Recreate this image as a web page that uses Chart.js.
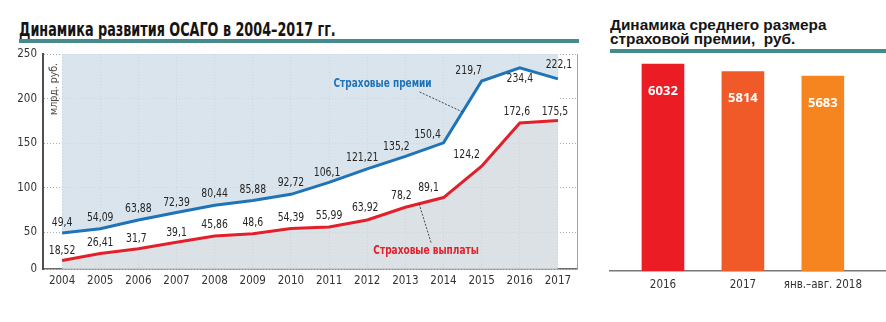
<!DOCTYPE html>
<html lang="ru">
<head>
<meta charset="utf-8">
<script src="https://cdn.jsdelivr.net/npm/chart.js@4.4.1/dist/chart.umd.min.js"></script>
<style>
  body { margin: 0; width: 886px; height: 322px; background: #fff; position: relative; overflow: hidden;
         font-family: "Liberation Sans Narrow", "DejaVu Sans Condensed", sans-serif; }
  .title { position: absolute; font-weight: bold; color: #141414; white-space: nowrap; transform-origin: 0 0; }
  #titleLeft { left: 19px; top: 19px; font-size: 20px; line-height: 20px; }
  #titleRight { left: 610px; top: 18px; font-size: 14px; line-height: 14px; font-family: "Liberation Sans", Arial, sans-serif; }
  #titleRight span { display: inline-block; }
  .rule { position: absolute; height: 4px; background: #458a8c; }
  #unit { position: absolute; left: 47px; top: 63px; font-size: 10.5px; color: #444; writing-mode: vertical-rl; transform: rotate(180deg); white-space: nowrap; }
  canvas { position: absolute; top: 0; }
</style>
</head>
<body>
<div class="title" id="titleLeft">Динамика развития ОСАГО в 2004–2017 гг.</div>
<div class="rule" style="left:19px; top:39px; width:560px;"></div>
<div class="title" id="titleRight"><span id="rt1">Динамика среднего размера</span><br><span>страховой премии,&nbsp; руб.</span></div>
<div class="rule" style="left:610px; top:49px; width:276px;"></div>

<canvas id="lineChart" width="590" height="322" style="left:0"></canvas>
<canvas id="barChart" width="286" height="322" style="left:600px"></canvas>
<div id="unit">млрд. руб.</div>

<script>
// --- data: ОСАГО 2004-2017, млрд руб.
const years = ["2004", "2005", "2006", "2007", "2008", "2009", "2010", "2011", "2012", "2013", "2014", "2015", "2016", "2017"];
const premiums = [49.4, 54.09, 63.88, 72.39, 80.44, 85.88, 92.72, 106.1, 121.21, 135.2, 150.4, 219.7, 234.4, 222.1];
const payouts = [18.52, 26.41, 31.7, 39.1, 45.86, 48.6, 54.39, 55.99, 63.92, 78.2, 89.1, 124.2, 172.6, 175.5];
const premiumsLabel = "Страховые премии";
const payoutsLabel = "Страховые выплаты";

// the original draws its "0" baseline slightly above zero
const yAxisFloor = 9;
const yTickValues = [yAxisFloor, 50, 100, 150, 200, 250];
const yTickLabels = ["0", "50", "100", "150", "200", "250"];

// --- data: average premium, руб.
const barCategories = ["2016", "2017", "янв.–авг. 2018"];
const barValues = [6032, 5814, 5683];

// label nudges [dx, dy] relative to each point
const premiumShift = [[0,-10],[0,-11],[0,-11],[0,-10],[0,-11],[0,-11],[0,-11],[-2,-10],[-5,-11],[-9,-10],[-16,-8],[-13,-10],[0,11],[1,-14]];
const payoutShift = [[0,-10],[0,-11],[-2,-10],[0,-9],[0,-11],[0,-11],[0,-11],[0,-11],[-2,-12],[-4,-11],[-15,-10],[-15,-11],[-3,-11],[-3,-9]];

const narrow = '"Liberation Sans Narrow", "DejaVu Sans Condensed", sans-serif';
const blue = "#1f73b7";
const red = "#e2202c";
const gridStyle = { color: "#a3adb5", lineWidth: 1 };

function fmt(v) { return String(v).replace(".", ","); }

// squeeze titles to the widths of the original lettering
(function fitTitles() {
  const l = document.getElementById("titleLeft");
  l.style.transform = "scaleX(" + (317 / l.offsetWidth) + ")";
  const r = document.getElementById("titleRight");
  const w = document.getElementById("rt1").offsetWidth;
  r.style.transform = "scaleX(" + (216 / w) + ")";
})();

// condensed lettering: draw text squeezed horizontally around its centre
function squeezedText(ctx, text, x, y, sx) {
  ctx.save();
  ctx.translate(x, y);
  ctx.scale(sx, 1);
  ctx.fillText(text, 0, 0);
  ctx.restore();
}

function pointOnSegment(meta, i, t) {
  const a = meta.data[i], b = meta.data[i + 1];
  return { x: a.x + (b.x - a.x) * t, y: a.y + (b.y - a.y) * t };
}

const lineLabels = {
  id: "lineLabels",
  afterDatasetsDraw(chart) {
    const ctx = chart.ctx;
    ctx.save();
    ctx.font = "12px " + narrow;
    ctx.fillStyle = "#262626";
    ctx.textAlign = "center";
    ctx.textBaseline = "middle";
    [[0, premiums, premiumShift], [1, payouts, payoutShift]].forEach(([idx, vals, shift]) => {
      const meta = chart.getDatasetMeta(idx);
      meta.data.forEach((pt, i) => {
        squeezedText(ctx, fmt(vals[i]), pt.x + shift[i][0], pt.y + shift[i][1], 0.86);
      });
    });

    // series captions with leader lines
    const pa = pointOnSegment(chart.getDatasetMeta(0), 10, 0.5);
    const pb = pointOnSegment(chart.getDatasetMeta(1), 9, 0.36);
    ctx.strokeStyle = "#222";
    ctx.lineWidth = 0.8;
    ctx.setLineDash([2, 1.5]);
    ctx.beginPath();
    ctx.moveTo(pa.x - 43, pa.y - 20); ctx.lineTo(pa.x, pa.y);
    ctx.moveTo(pb.x, pb.y); ctx.lineTo(pb.x + 12, pb.y + 39);
    ctx.stroke();
    ctx.setLineDash([]);
    ctx.font = "bold 13px " + narrow;
    ctx.fillStyle = blue;
    squeezedText(ctx, premiumsLabel, pa.x - 80, pa.y - 28, 0.77);
    ctx.fillStyle = red;
    squeezedText(ctx, payoutsLabel, pb.x + 7, pb.y + 47, 0.77);
    ctx.restore();
  }
};

new Chart(document.getElementById("lineChart"), {
  type: "line",
  data: {
    labels: years,
    datasets: [
      { label: premiumsLabel, data: premiums, borderColor: blue, borderWidth: 3, pointRadius: 0,
        fill: "end", backgroundColor: "rgba(210,223,233,0.85)" },
      { label: payoutsLabel, data: payouts, borderColor: red, borderWidth: 3, pointRadius: 0,
        fill: "start", backgroundColor: "rgba(214,220,225,0.85)" },
      // white band between the two lines hides the grid there
      { label: "", data: premiums, borderWidth: 0, pointRadius: 0, fill: 1, backgroundColor: "#fff" }
    ]
  },
  options: {
    responsive: false,
    animation: false,
    devicePixelRatio: 1,
    layout: { padding: { left: 0, top: 54, right: 13, bottom: 21 } },
    plugins: { legend: { display: false }, tooltip: { enabled: false }, filler: { drawTime: "beforeDatasetsDraw" } },
    scales: {
      x: {
        offset: true,
        grid: { offset: false, drawTicks: false, ...gridStyle },
        border: { color: "#6a6a6a", width: 1.5, dash: [1, 2] },
        ticks: { padding: 5, color: "#333", font: { family: narrow, size: 11.5 } },
        afterFit: (s) => { s.height = 32; }
      },
      y: {
        min: yAxisFloor,
        max: 250,
        afterBuildTicks: (s) => { s.ticks = yTickValues.map((v) => ({ value: v })); },
        grid: { drawTicks: false, ...gridStyle },
        border: { color: "#505050", width: 2, dash: [1, 2] },
        ticks: { padding: 6, color: "#333", font: { family: narrow, size: 11.5 },
                 callback: (v, i) => yTickLabels[i] },
        afterFit: (s) => { s.width = 43; }
      },
      yRight: {
        position: "right",
        min: yAxisFloor,
        max: 250,
        grid: { display: false },
        ticks: { display: false },
        border: { color: "#a0a0a0", width: 1 },
        afterFit: (s) => { s.width = 0; }
      }
    }
  },
  plugins: [lineLabels]
});

const barLabels = {
  id: "barLabels",
  afterDatasetsDraw(chart) {
    const ctx = chart.ctx;
    ctx.save();
    ctx.font = 'bold 13px "Open Sans", sans-serif';
    ctx.fillStyle = "#fff";
    ctx.textAlign = "center";
    ctx.textBaseline = "middle";
    chart.getDatasetMeta(0).data.forEach((bar, i) => {
      ctx.fillText(String(barValues[i]), bar.x, bar.y + 27);
    });
    ctx.restore();
  }
};

new Chart(document.getElementById("barChart"), {
  type: "bar",
  data: {
    datasets: [{
      data: barValues.map((v, i) => ({ x: i, y: v })),
      backgroundColor: ["#ec1c24", "#f05a28", "#f6841f"],
      barThickness: 42
    }]
  },
  options: {
    responsive: false,
    animation: false,
    devicePixelRatio: 1,
    layout: { padding: { left: 10, top: 60, right: 0, bottom: 21 } },
    plugins: { legend: { display: false }, tooltip: { enabled: false } },
    scales: {
      x: {
        type: "linear",
        offset: false,
        min: -0.6625,
        max: 2.79,
        afterBuildTicks: (s) => { s.ticks = barCategories.map((c, i) => ({ value: i })); },
        grid: { display: false, drawTicks: false },
        border: { color: "#777", width: 1.5 },
        ticks: { padding: 7, color: "#333", font: { family: narrow, size: 11.5 },
                 callback: (v, i) => barCategories[i] },
        afterFit: (s) => { s.height = 30; }
      },
      y: { display: false, min: 0, max: 6150 }
    }
  },
  plugins: [barLabels]
});
</script>
</body>
</html>
